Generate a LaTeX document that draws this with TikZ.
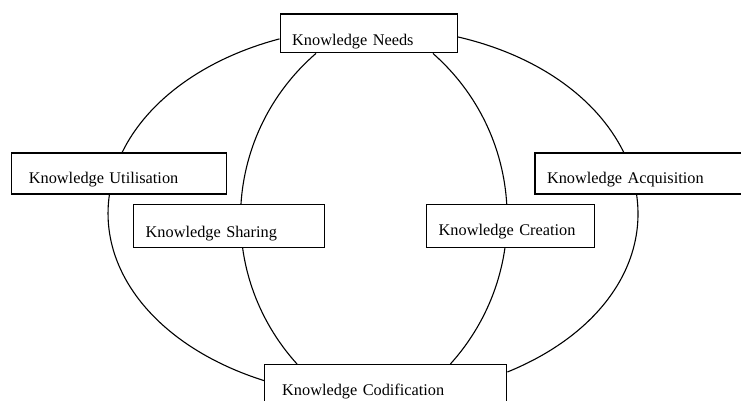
\documentclass[tikz,border=0pt]{standalone}
\usepackage{fontspec}
\setmainfont{Liberation Serif}
\usetikzlibrary{backgrounds}

\begin{document}
\begin{tikzpicture}[x=1pt, y=1pt,
    kbox/.style={draw, fill=white, line width=1.4pt, anchor=north west, inner xsep=12pt, inner ysep=0pt,
        text height=31pt, text depth=12pt, align=left, font=\fontsize{16.3}{19}\selectfont},
    kline/.style={line width=1.1pt}]
    \useasboundingbox (0,0) rectangle (741,401);
    \clip (0,0) rectangle (741,401);
    \node[kbox, text width=153pt, text depth=7.5pt] (needs) at (279.5,387.5) {Knowledge Needs};
    \node[kbox, inner xsep=17.5pt, text width=180pt, text depth=10pt] (util) at (10.7,248.7) {Knowledge Utilisation};
    \node[kbox, text width=191pt, text depth=10pt] (acq) at (534.3,248.7) {Knowledge Acquisition};
    \node[kbox, text width=167pt, text height=32.5pt, text depth=10.5pt] (share) at (133,197) {Knowledge Sharing};
    \node[kbox, text width=144pt] (create) at (426,197) {Knowledge Creation};
    \node[kbox, inner xsep=17.5pt, text width=207pt] (codif) at (264,37) {Knowledge Codification};
    \begin{pgfonlayer}{background}
    % outer cycle
    \draw[kline] ([yshift=-3.5pt]needs.east) .. controls +(-13:80.8pt) and +(116.2:61pt) .. ([xshift=89.4pt]acq.north west);
    \draw[kline] ([xshift=102.3pt]acq.south west) .. controls +(-81.7:73.1pt) and +(22.1:97.2pt) .. ([yshift=-8pt]codif.north east);
    \draw[kline] ([yshift=-16.6pt]codif.north west) .. controls +(162.5:108.9pt) and +(-98.3:80pt) .. ([xshift=98.7pt]util.south west);
    \draw[kline] ([xshift=111.5pt]util.north west) .. controls +(64:58.2pt) and +(194.75:76.6pt) .. ([yshift=-25.4pt]needs.north west);
    % inner lens, behind sharing and creation
    \draw[kline] ([xshift=36.5pt]needs.south west) .. controls +(220.9:122.6pt) and +(132.1:122.6pt) .. ([xshift=33pt]codif.north west);
    \draw[kline] ([xshift=-25pt]needs.south east) .. controls +(-41.4:122.4pt) and +(48:122.4pt) .. ([xshift=-57pt]codif.north east);
    \end{pgfonlayer}
\end{tikzpicture}
\end{document}
